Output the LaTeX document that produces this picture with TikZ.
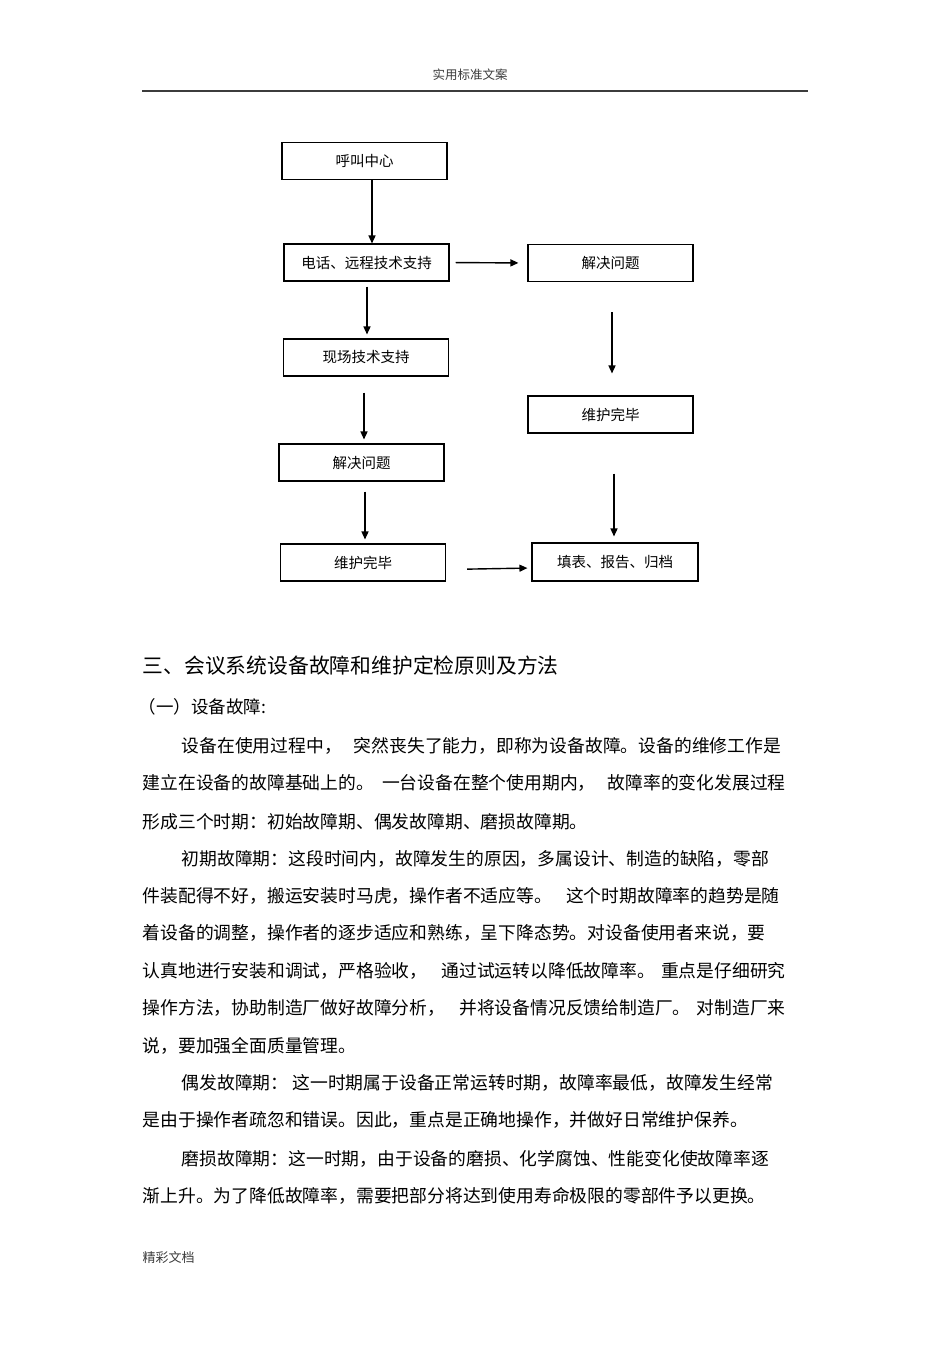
\documentclass[tikz,border=0pt]{standalone}
\usepackage{fontspec}
\setmainfont{Noto Sans CJK SC}
\usepackage{tikz}
\usetikzlibrary{positioning,arrows.meta,calc}
\definecolor{headgray}{RGB}{60,60,60}

\begin{document}
\begin{tikzpicture}[->,>={Triangle[length=8pt,width=7pt]},x=1pt,y=-1pt,line width=1.4pt]
            \tikzstyle{flowbox}=[draw, line width=1.1pt, minimum width=165pt, minimum height=37pt, inner sep=0pt, font=\fontsize{14.5}{16}\selectfont]
            \tikzstyle{textline}=[anchor=west, inner sep=0pt, font=\fontsize{17.8}{20}\selectfont]
            \useasboundingbox[fill=white] (0,0) rectangle (950,1345);
            % page head
            \node[inner sep=0pt, text=headgray, font=\fontsize{12.5}{14}\selectfont] (head) at (470,75) {实用标准文案};
            \draw[-, line width=1.2pt, headgray] (142,91) -- (808,91);
            % flow chart
            \node[flowbox] (call)   at (364.5,161)   {呼叫中心};
            \node[flowbox] (phone)  at (366.5,262.5) {电话、远程技术支持};
            \node[flowbox] (solveR) at (610.5,263)   {解决问题};
            \node[flowbox] (site)   at (366,357.5)   {现场技术支持};
            \node[flowbox] (doneR)  at (610.5,414.5) {维护完毕};
            \node[flowbox] (solveL) at (361.5,462.5) {解决问题};
            \node[flowbox] (doneL)  at (363,562.5)   {维护完毕};
            \node[flowbox, minimum width=166pt, minimum height=38pt] (archive) at (615,562) {填表、报告、归档};
            \draw ([xshift=7.5pt]call.south) -- ([xshift=7.5pt]call.south |- phone.north);
            \draw[shorten <=6pt, shorten >=9pt] (phone.east) -- (solveR.west);
            \draw[shorten <=5pt, shorten >=4pt] ([xshift=0.5pt]phone.south) -- ([xshift=0.5pt]phone.south |- site.north);
            \draw[shorten <=16pt, shorten >=4pt] ([xshift=-2pt]site.south) -- ([xshift=-2pt]site.south |- solveL.north);
            \draw[shorten <=10pt, shorten >=4pt] ([xshift=3.5pt]solveL.south) -- ([xshift=3.5pt]solveL.south |- doneL.north);
            \draw[shorten <=21pt, shorten >=4pt] ([yshift=-7pt]doneL.east) -- ([yshift=-6pt]archive.west);
            \draw[shorten <=30pt, shorten >=22pt] ([xshift=1.5pt]solveR.south) -- ([xshift=1.5pt]solveR.south |- doneR.north);
            \draw[shorten <=40pt, shorten >=6pt] ([xshift=3.5pt]doneR.south) -- ([xshift=3.5pt]doneR.south |- archive.north);
            % text of the page
            \node[anchor=west, inner sep=0pt, font=\fontsize{20.8}{23}\selectfont] (title) at (142,666) {三、会议系统设备故障和维护定检原则及方法};
            \node[anchor=west, inner sep=0pt, font=\fontsize{17.5}{20}\selectfont] (sub) at (138,707) {（一）设备故障:};
            \node[textline] (l1)  at (181,746)  {设备在使用过程中，\hspace{12pt}突然丧失了能力，即称为设备故障。设备的维修工作是};
            \node[textline] (l2)  at (142,783)  {建立在设备的故障基础上的。\hspace{8pt}一台设备在整个使用期内，\hspace{12pt}故障率的变化发展过程};
            \node[textline] (l3)  at (142,822)  {形成三个时期：初始故障期、偶发故障期、磨损故障期。};
            \node[textline] (l4)  at (181,859)  {初期故障期：这段时间内，故障发生的原因，多属设计、制造的缺陷，零部};
            \node[textline] (l5)  at (142,896)  {件装配得不好，搬运安装时马虎，操作者不适应等。\hspace{14pt}这个时期故障率的趋势是随};
            \node[textline] (l6)  at (142,933)  {着设备的调整，操作者的逐步适应和熟练，呈下降态势。对设备使用者来说，要};
            \node[textline] (l7)  at (142,971)  {认真地进行安装和调试，严格验收，\hspace{14pt}通过试运转以降低故障率。\hspace{6pt}重点是仔细研究};
            \node[textline] (l8)  at (142,1008) {操作方法，协助制造厂做好故障分析，\hspace{14pt}并将设备情况反馈给制造厂。\hspace{6pt}对制造厂来};
            \node[textline] (l9)  at (142,1046) {说，要加强全面质量管理。};
            \node[textline] (l10) at (181,1083) {偶发故障期：\hspace{4pt}这一时期属于设备正常运转时期，故障率最低，故障发生经常};
            \node[textline] (l11) at (142,1120) {是由于操作者疏忽和错误。因此，重点是正确地操作，并做好日常维护保养。};
            \node[textline] (l12) at (181,1159) {磨损故障期：这一时期，由于设备的磨损、化学腐蚀、性能变化使故障率逐};
            \node[textline] (l13) at (142,1196) {渐上升。为了降低故障率，需要把部分将达到使用寿命极限的零部件予以更换。};
            % page foot
            \node[anchor=west, inner sep=0pt, text=headgray, font=\fontsize{13}{15}\selectfont] (foot) at (142,1257) {精彩文档};
\end{tikzpicture}
\end{document}
